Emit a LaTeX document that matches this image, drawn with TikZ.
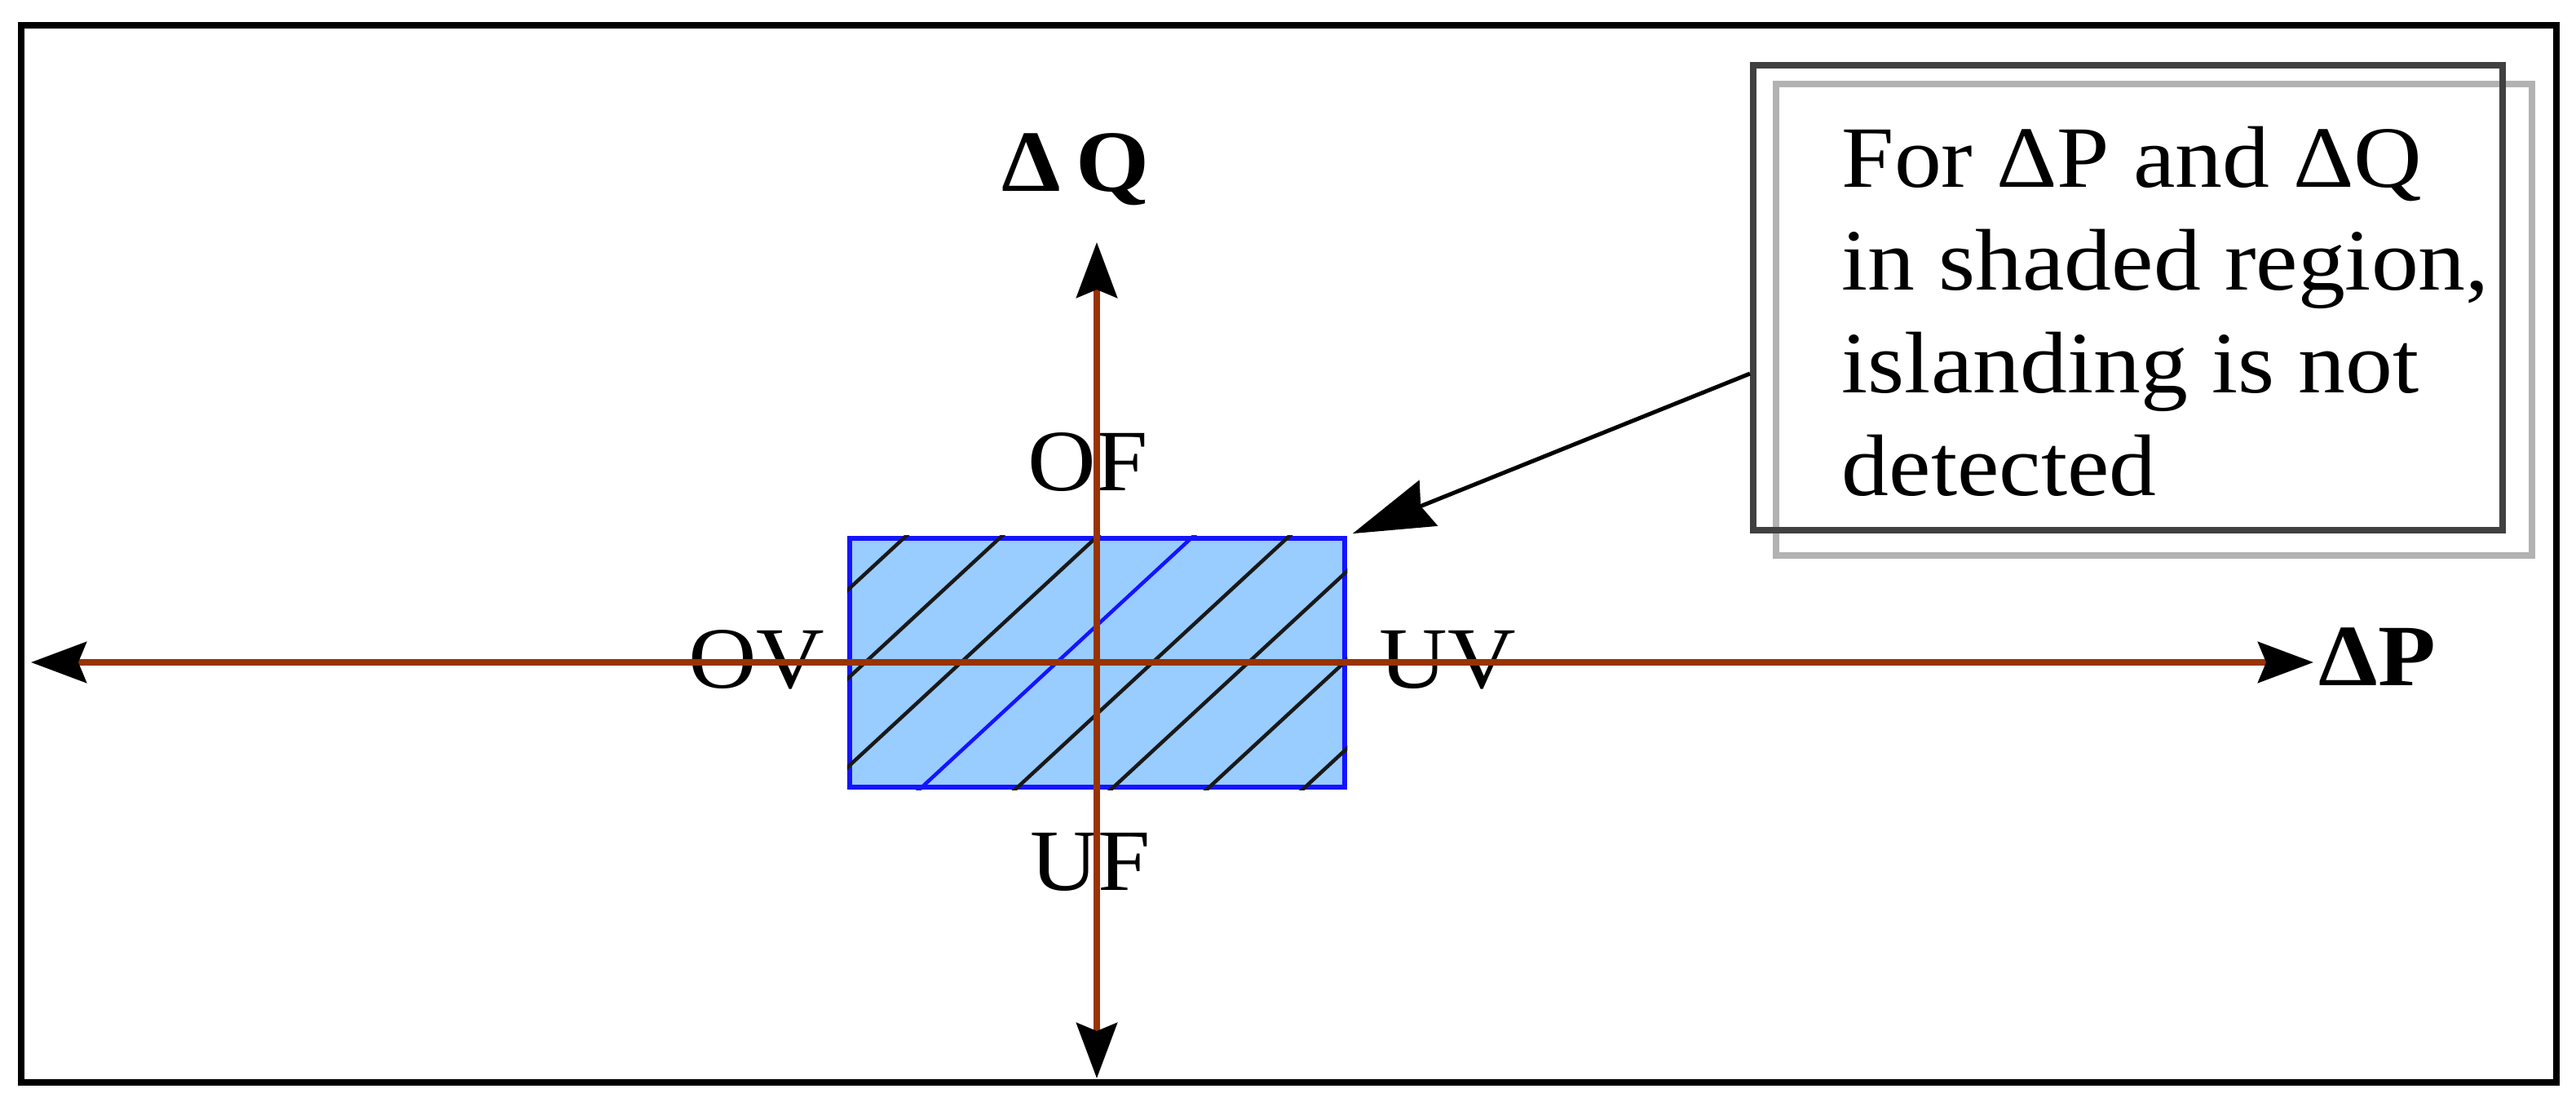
\documentclass[tikz,border=0pt]{standalone}
\usepackage{fontspec}
\setmainfont{Liberation Serif}[FakeStretch=1.08]
\usetikzlibrary{arrows.meta, calc, backgrounds}
\definecolor{axisbrown}{HTML}{993300}
\definecolor{regionfill}{HTML}{99CCFF}
\definecolor{regionblue}{HTML}{1414FF}
\begin{document}
\begin{tikzpicture}[
  axisline/.style={axisbrown, line width=0.075cm, {Stealth[length=0.68cm,width=0.5cm,inset=0.1cm,color=black]}-{Stealth[length=0.68cm,width=0.5cm,inset=0.1cm,color=black]}},
  hatch/.style={line width=0.045cm, black!90},
  lbl/.style={font=\fontsize{30.5}{36}\selectfont, inner sep=0pt},
  notebox/.style={draw=black!75, line width=0.08cm, minimum width=9.19cm, minimum height=5.7cm, inner sep=0pt},
  shadowbox/.style={draw=black!30, line width=0.075cm},
  pointer/.style={line width=0.05cm, -{Stealth[length=1cm,width=0.6cm,inset=0.1cm]}, shorten >=2pt}
]
  \useasboundingbox (0,0) rectangle (31.59,13.5);
  \draw[line width=0.085cm] (0.26,0.23) rectangle (31.35,13.19);

  % shaded region with hatching
  \node[draw=regionblue, fill=regionfill, line width=0.065cm, minimum width=6.07cm, minimum height=3.05cm, inner sep=0pt] (region) at (13.455,5.375) {};
  \begin{scope}
    \clip (region.south west) rectangle (region.north east);
    \foreach \k in {0,1,2,4,5,6,7}
      \draw[hatch] ({7.45+1.175*\k},3.545) -- ++(3.96,3.66);
    \draw[hatch, regionblue] ({7.45+1.175*3},3.545) -- ++(3.96,3.66);
  \end{scope}

  % labels
  \node[lbl, anchor=base] (dq) at (13.19,11.15) {\bfseries Δ\,Q};
  \node[lbl, anchor=base west] (dp) at (28.43,5.10) {\bfseries ΔP};
  \node[lbl, anchor=base] (of) at (13.34,7.49) {OF};
  \node[lbl, anchor=base] (uf) at (13.37,2.59) {UF};
  \node[lbl, anchor=base] (ov) at (9.28,5.07) {OV};
  \node[lbl, anchor=base] (uv) at (17.75,5.07) {UV};

  % axes
  \coordinate (pl) at (0.38,5.38);
  \coordinate (pr) at (28.37,5.38);
  \coordinate (qt) at (13.45,10.53);
  \coordinate (qb) at (13.45,0.28);
  \draw[axisline] (pl) -- (pr);
  \draw[axisline] (qb) -- (qt);

  % note box
  \node[notebox, anchor=north west] (note) at (21.46,12.74) {};
  \begin{scope}[on background layer]
    \draw[shadowbox] ([shift={(0.32,-0.27)}]note.south west) rectangle ([shift={(0.32,-0.27)}]note.north east);
  \end{scope}
  \node[lbl, anchor=base west, align=left, font=\fontsize{30.5}{35.8}\selectfont] (notetxt) at (22.58,7.43) {For ΔP and ΔQ\\in shaded region,\\islanding is not\\detected};
  \draw[pointer] ($(note.north west)!0.661!(note.south west)$) -- (region.north east);
\end{tikzpicture}
\end{document}
